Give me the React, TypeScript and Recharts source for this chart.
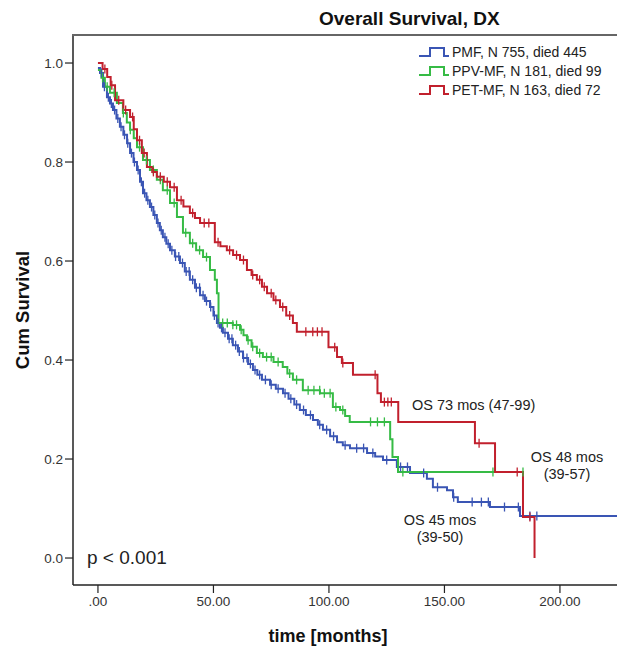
import { Label, Legend, Line, LineChart, XAxis, YAxis } from 'recharts';

// PMF (blue)
const pmfTime = [0, 0.9, 2.2, 3.9, 5.2, 6.5, 8, 9.5, 11, 12.6, 13.9, 15.4, 16.9, 18.2, 19.5, 21, 22.5, 24, 25.5, 26.8, 28.1, 29.6, 31.2, 33.3, 35.5, 37.6, 39.8, 42, 44.2, 46.3, 48.5, 50, 51.5, 52.8, 54.1, 56.3, 58.4, 60.6, 62.8, 65, 67.1, 69, 71, 74.5, 77, 80.1, 82.5, 85, 87.4, 90, 93.1, 95.2, 97.4, 100.5, 103.5, 106, 109.1, 116.5, 120, 123.4, 129.4, 135.1, 142.4, 145, 151.1, 153.7, 155.8, 169.7, 182.7, 224.7];
const pmfSurv = [0.99, 0.98, 0.952, 0.931, 0.918, 0.905, 0.888, 0.871, 0.855, 0.838, 0.818, 0.8, 0.784, 0.76, 0.737, 0.723, 0.709, 0.693, 0.677, 0.662, 0.648, 0.635, 0.622, 0.609, 0.596, 0.579, 0.562, 0.546, 0.531, 0.519, 0.507, 0.49, 0.475, 0.465, 0.455, 0.443, 0.43, 0.417, 0.404, 0.392, 0.38, 0.37, 0.36, 0.35, 0.342, 0.333, 0.322, 0.31, 0.299, 0.289, 0.279, 0.269, 0.259, 0.246, 0.234, 0.228, 0.222, 0.212, 0.205, 0.198, 0.184, 0.172, 0.16, 0.143, 0.137, 0.123, 0.113, 0.103, 0.085, 0.085];
const pmfCensor = [1.5, 2.8, 4.5, 5.8, 7.2, 8.6, 10, 11.5, 12.9, 14.5, 15.8, 17.4, 18.8, 20.2, 21.6, 23.2, 24.6, 26, 27.4, 29, 30.4, 32, 33.6, 35, 36.6, 38.2, 39.5, 41, 42.6, 44, 45.5, 47, 48.8, 50.4, 52, 53.5, 55, 56.8, 58, 59.6, 61.2, 63, 64.5, 66, 68, 70, 72.5, 75, 78, 81, 83.5, 86, 89, 92, 96, 99, 102, 107, 112, 115, 119, 125, 131, 134, 141, 147, 154, 162, 166, 169, 176, 182, 187, 190];

// PPV-MF (green)
const ppvTime = [0, 1.5, 3, 5.2, 8.2, 10.8, 12.5, 13.9, 15.5, 16.9, 19.5, 22.5, 25.5, 28.1, 31.2, 34.2, 36.8, 39.8, 42.5, 45.5, 48.5, 50.6, 51.5, 52.2, 58.4, 61.5, 63, 64.5, 66.5, 68.8, 71.4, 76, 80, 82, 84.4, 88.7, 96.1, 101.7, 104.8, 107, 109, 126.5, 127.5, 129.9, 184];
const ppvSurv = [0.986, 0.97, 0.952, 0.94, 0.919, 0.899, 0.88, 0.865, 0.848, 0.83, 0.804, 0.784, 0.764, 0.743, 0.717, 0.689, 0.657, 0.636, 0.622, 0.608, 0.582, 0.562, 0.535, 0.475, 0.471, 0.461, 0.45, 0.44, 0.427, 0.414, 0.406, 0.396, 0.386, 0.373, 0.36, 0.339, 0.333, 0.305, 0.299, 0.287, 0.275, 0.24, 0.204, 0.174, 0.174];
const ppvCensor = [2, 4, 7, 11, 14, 18, 21, 24, 27, 30, 33, 38, 41, 44, 47, 54, 56, 58.4, 60, 62, 65, 67, 70, 73, 75, 78, 83, 86, 91, 93.5, 96, 98, 100.5, 103, 106, 118, 121, 124, 132, 171, 184];

// PET-MF (red)
const petTime = [0, 2, 4, 5.5, 7.4, 11, 13.9, 15.5, 16.9, 19, 21.2, 23.5, 25.5, 28.5, 31.2, 34.2, 37, 39.8, 42, 44.2, 50.6, 53, 55.8, 58.5, 61.5, 64.5, 66.5, 68.8, 71, 73.2, 76, 78.8, 81.5, 84.4, 86.1, 99.8, 103.5, 105.6, 110.4, 121, 122.5, 130, 163.2, 171.9, 184, 189];
const petSurv = [1.0, 0.988, 0.972, 0.955, 0.925, 0.905, 0.891, 0.866, 0.844, 0.818, 0.79, 0.78, 0.77, 0.76, 0.749, 0.723, 0.71, 0.697, 0.687, 0.677, 0.638, 0.63, 0.622, 0.612, 0.602, 0.582, 0.572, 0.562, 0.548, 0.535, 0.521, 0.507, 0.49, 0.475, 0.457, 0.426, 0.406, 0.394, 0.37, 0.333, 0.315, 0.275, 0.232, 0.174, 0.083, 0.0];
const petCensor = [3, 6, 9, 12, 15, 18, 20, 24, 27, 30, 33, 36, 41, 46, 48, 52, 57, 60, 63, 67, 70, 72, 75, 77, 80, 83, 90, 93, 95, 97, 102.5, 106, 120, 124, 125.5, 127, 165, 181.5, 187];

const xTicks = [0, 50, 100, 150, 200];
const yTicks = [0, 0.2, 0.4, 0.6, 0.8, 1.0];

type Row = { t: number; s: number; censored: boolean };

function buildRows(times: number[], surv: number[], censor: number[]): Row[] {
  const rows: Row[] = times.map((t, i) => ({ t, s: surv[i], censored: false }));
  censor.forEach((c) => {
    const hit = rows.find((r) => r.t === c);
    if (hit) {
      hit.censored = true;
      return;
    }
    let s = surv[0];
    times.forEach((t, i) => {
      if (t <= c) s = surv[i];
    });
    rows.push({ t: c, s, censored: true });
  });
  return rows.sort((a, b) => a.t - b.t);
}

const series = [
  { key: 'pmf', name: 'PMF, N 755, died 445', color: '#3a55b4', rows: buildRows(pmfTime, pmfSurv, pmfCensor) },
  { key: 'ppv', name: 'PPV-MF, N 181, died 99', color: '#36bb45', rows: buildRows(ppvTime, ppvSurv, ppvCensor) },
  { key: 'pet', name: 'PET-MF, N 163, died 72', color: '#c1202d', rows: buildRows(petTime, petSurv, petCensor) },
];

const X_MIN = -10.8;
const X_MAX = 224.7;
const Y_MIN = -0.0545;
const Y_MAX = 1.0566;

const font = '"Liberation Sans", Arial, sans-serif';

function censorDot(color: string) {
  return (props: any) => {
    const { cx, cy, payload, index } = props;
    if (!payload || !payload.censored) return <g key={`n${index}`} />;
    return <line key={`c${index}`} x1={cx} x2={cx} y1={cy - 4.5} y2={cy + 4.5} stroke={color} strokeWidth={1.3} />;
  };
}

function LegendBox() {
  return (
    <div style={{ fontFamily: font, fontSize: 14, color: '#222' }}>
      {series.map((d) => (
        <div key={d.key} style={{ display: 'flex', alignItems: 'center', height: 19 }}>
          <svg width={32} height={12} style={{ marginRight: 2 }}>
            <path d="M1,10 H12 V2 H26 V10 H31" fill="none" stroke={d.color} strokeWidth={2} />
          </svg>
          <span>{d.name}</span>
        </div>
      ))}
    </div>
  );
}

export default function App() {
  return (
    <div style={{ position: 'absolute', left: 0, top: 0, width: 617, height: 652, background: '#fff', fontFamily: font }}>
      <LineChart width={617} height={652} margin={{ top: 35, right: 0, bottom: 0, left: 0 }}>
        <XAxis
          type="number"
          dataKey="t"
          domain={[X_MIN, X_MAX]}
          allowDataOverflow
          ticks={xTicks}
          tickFormatter={(v: number) => (v === 0 ? '.00' : v.toFixed(2))}
          height={67}
          tickSize={8}
          tickMargin={3}
          axisLine={{ stroke: '#222', strokeWidth: 1.5 }}
          tickLine={{ stroke: '#222', strokeWidth: 1.2 }}
          tick={{ fill: '#333', fontSize: 13.5, fontFamily: font }}
        >
          <Label
            content={() => (
              <text x={328} y={636} textAnchor="middle" dominantBaseline="central" fontSize={18} fontWeight="bold" fill="#111" fontFamily={font}>
                time [months]
              </text>
            )}
          />
        </XAxis>
        <YAxis
          type="number"
          domain={[Y_MIN, Y_MAX]}
          allowDataOverflow
          ticks={yTicks}
          tickFormatter={(v: number) => v.toFixed(1)}
          width={73}
          tickSize={8}
          tickMargin={2}
          axisLine={{ stroke: '#222', strokeWidth: 1.5 }}
          tickLine={{ stroke: '#222', strokeWidth: 1.2 }}
          tick={{ fill: '#333', fontSize: 13.5, fontFamily: font }}
        >
          <Label
            content={() => (
              <text x={22} y={310} transform="rotate(-90 22 310)" textAnchor="middle" dominantBaseline="central" fontSize={18.5} fontWeight="bold" fill="#111" fontFamily={font}>
                Cum Survival
              </text>
            )}
          />
          <Label
            content={() => (
              <text x={319} y={18} textAnchor="start" dominantBaseline="central" fontSize={19} fontWeight="bold" fill="#111" fontFamily={font}>
                Overall Survival, DX
              </text>
            )}
          />
        </YAxis>
        <Legend
          layout="vertical"
          align="center"
          verticalAlign="middle"
          content={<LegendBox />}
          wrapperStyle={{ left: 418, top: 42, width: 199 }}
        />
        {series.map((d) => (
          <Line
            key={d.key}
            data={d.rows}
            dataKey="s"
            name={d.name}
            type="stepAfter"
            stroke={d.color}
            strokeWidth={2}
            dot={censorDot(d.color)}
            activeDot={false}
            isAnimationActive={false}
          />
        ))}
      </LineChart>
      <div style={{ position: 'absolute', left: 72, top: 34, width: 545, height: 2, background: '#666' }} />
      <div style={{ position: 'absolute', left: 87, top: 547, fontSize: 19, color: '#222' }}>p &lt; 0.001</div>
      <div style={{ position: 'absolute', left: 412, top: 397, fontSize: 14.5, color: '#222' }}>OS 73 mos (47-99)</div>
      <div style={{ position: 'absolute', left: 527, top: 449, width: 80, textAlign: 'center', fontSize: 14.5, lineHeight: '17px', color: '#222' }}>
        OS 48 mos
        <br />
        (39-57)
      </div>
      <div style={{ position: 'absolute', left: 400, top: 512, width: 80, textAlign: 'center', fontSize: 14.5, lineHeight: '17px', color: '#222' }}>
        OS 45 mos
        <br />
        (39-50)
      </div>
    </div>
  );
}
